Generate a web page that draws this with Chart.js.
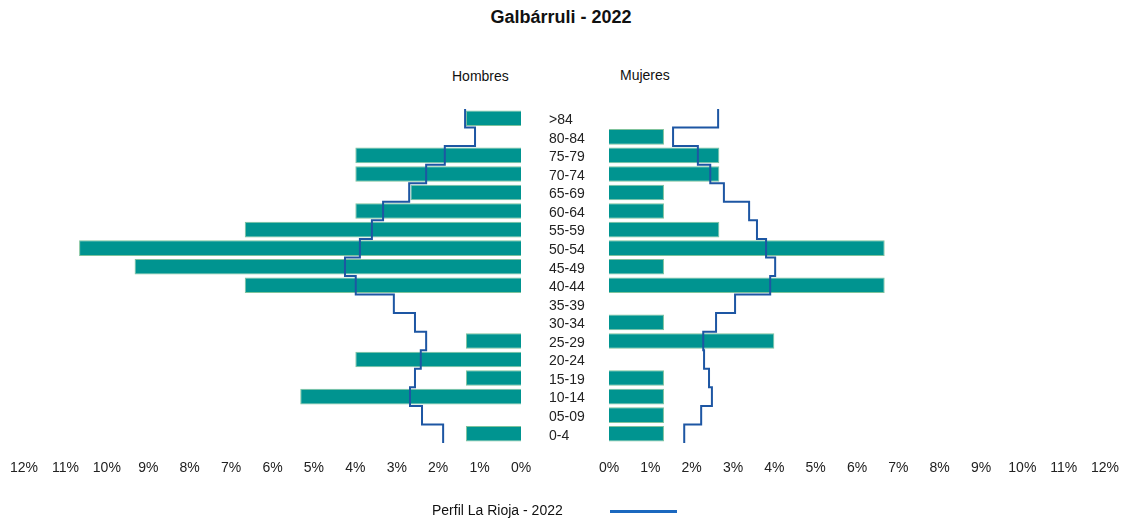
<!DOCTYPE html>
<html>
<head>
<meta charset="utf-8">
<script src="https://cdn.jsdelivr.net/npm/chart.js@4.4.1/dist/chart.umd.min.js"></script>
<style>
  body { margin: 0; background: #fff; font-family: "Liberation Sans", Arial, sans-serif; }
  #wrap { position: relative; width: 1122px; height: 521px; overflow: hidden; }
  canvas { position: absolute; top: 0; }
  .txt { position: absolute; color: #111; white-space: nowrap; }
</style>
</head>
<body>
<div id="wrap">
  <div class="txt" style="left:0;width:1122px;top:7px;text-align:center;font-weight:bold;font-size:18px;">Galbárruli - 2022</div>
  <div class="txt" style="left:452px;top:68px;font-size:14px;">Hombres</div>
  <div class="txt" style="left:620px;top:67px;font-size:14px;">Mujeres</div>
  <div style="position:absolute;left:0;width:600px;height:521px;"><canvas id="izq"></canvas></div>
  <div style="position:absolute;left:580px;width:548px;height:521px;"><canvas id="der"></canvas></div>
  <div class="txt" style="left:432px;top:502px;font-size:14px;">Perfil La Rioja - 2022</div>
  <div style="position:absolute;left:610px;top:510px;width:67px;height:3px;background:#1b68bf;"></div>
</div>
<script>
// edades de arriba abajo
var edades = ['>84','80-84','75-79','70-74','65-69','60-64','55-59','50-54','45-49','40-44','35-39','30-34','25-29','20-24','15-19','10-14','05-09','0-4'];
var hombres = [1.33,0,4,4,2.67,4,6.67,10.67,9.33,6.67,0,0,1.33,4,1.33,5.33,0,1.33];
var mujeres = [0,1.33,2.67,2.67,1.33,1.33,2.67,6.67,1.33,6.67,0,1.33,4,0,1.33,1.33,1.33,1.33];
var riojaHombres = [1.35,1.11,1.84,2.29,2.70,3.33,3.60,3.89,4.25,3.99,3.07,2.56,2.29,2.42,2.56,2.68,2.39,1.88];
var riojaMujeres = [2.64,1.55,2.15,2.45,2.78,3.39,3.58,3.80,4.02,3.90,3.05,2.59,2.28,2.30,2.42,2.49,2.23,1.82];
var ticksX = [0,1,2,3,4,5,6,7,8,9,10,11,12];

var fuente = { family: '"Liberation Sans", Arial, sans-serif', size: 14 };

// escalones: cada grupo de edad ocupa su banda entera
function escalones(valores) {
  var pts = [];
  valores.forEach(function (v, i) {
    pts.push({ x: v, y: i - 0.5 });
    pts.push({ x: v, y: i + 0.5 });
  });
  return pts;
}

function piramide(id, barras, perfil, izquierda) {
  var ctx = document.getElementById(id).getContext('2d');
  return new Chart(ctx, {
    type: 'bar',
    data: {
      labels: edades,
      datasets: [{
        type: 'line',
        data: escalones(perfil),
        yAxisID: 'y2',
        borderColor: '#1d56a3',
        borderWidth: 2,
        pointRadius: 0,
        fill: false,
        tension: 0
      }, {
        data: barras,
        yAxisID: 'y',
        backgroundColor: '#009490',
        borderColor: '#7fc39c',
        borderWidth: 1,
        grouped: false,
        barPercentage: 0.84,
        categoryPercentage: 1
      }]
    },
    options: {
      indexAxis: 'y',
      responsive: true,
      maintainAspectRatio: false,
      animation: false,
      layout: {
        padding: izquierda ? { left: 24, right: 0, top: 109, bottom: 38 }
                           : { left: 29, right: 0, top: 109, bottom: 38 }
      },
      plugins: { legend: { display: false }, tooltip: { enabled: false } },
      scales: {
        x: {
          min: 0, max: 12,
          reverse: izquierda,
          grid: { display: false },
          border: { display: false },
          afterBuildTicks: function (s) { s.ticks = ticksX.map(function (v) { return { value: v }; }); },
          afterFit: function (s) { s.height = 40; },
          ticks: {
            color: '#222', font: fuente, padding: 9, maxRotation: 0, autoSkip: false,
            callback: function (v) { return v + '%'; }
          }
        },
        y: {
          display: izquierda,
          position: 'right',
          grid: { display: false, drawTicks: false },
          border: { display: false },
          afterFit: function (s) { if (izquierda) s.width = 79; },
          ticks: { color: '#222', font: fuente, padding: 28, labelOffset: 2, autoSkip: false }
        },
        y2: {
          type: 'linear',
          display: false,
          offset: false,
          min: -0.5, max: edades.length - 0.5,
          reverse: true
        }
      }
    }
  });
}

piramide('izq', hombres, riojaHombres, true);
piramide('der', mujeres, riojaMujeres, false);
</script>
</body>
</html>
